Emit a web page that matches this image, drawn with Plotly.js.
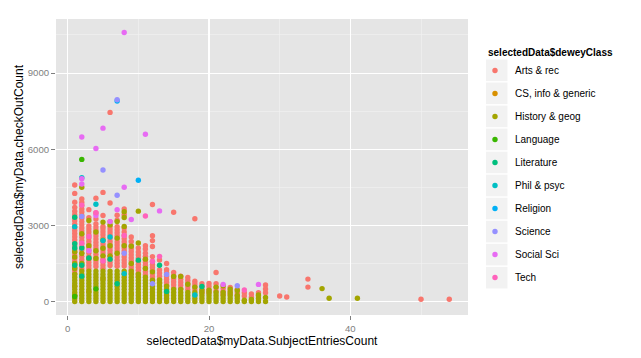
<!DOCTYPE html>
<html>
<head>
<meta charset="utf-8">
<script src="https://cdn.plot.ly/plotly-3.0.1.min.js"></script>
<style>html,body{margin:0;padding:0;background:#fff;}#chart{width:641px;height:358px;}</style>
</head>
<body>
<div id="chart"></div>
<script>
// ---- data: each class is a list of [SubjectEntriesCount, [checkOutCount values]] ----
var classNames = ['Arts & rec','CS, info & generic','History & geog','Language','Literature','Phil & psyc','Religion','Science','Social Sci','Tech'];

var artsRec = [
  [1,[4590,4260,3910,3710,3560,3420,3300,3180,3050,2920,2800,2680,2550,2430,2310,2190,2060,1940,1820,1700,1580,1460,1340,1220,1100]],
  [2,[4040,3900,3780,3650,3530,3400,3280,3150,3030,2900,2780,2650,2530,2400,2280,2150,2030,1900,1780,1650,1530,1400,1280]],
  [3,[3620,3300,2980,2860,2740,2620,2500,2380,2260,2140,2020,1900,1780,1660,1540,1420,1300]],
  [4,[4070,3490,3250,3060,2940,2820,2700,2580,2460,2340,2220,2100,1980,1860,1740,1620,1500,1380]],
  [5,[4300,3390,2960,2870,2750,2630,2510,2390,2270,2150,2030,1910,1790,1670,1550,1430,1310]],
  [6,[7450,3880,3150,2980,2860,2740,2620,2500,2380,2260,2140,2020,1900,1780,1660,1540,1420]],
  [7,[3400,3200,2950,2830,2710,2590,2470,2350,2230,2110,1990,1870,1750,1630,1510,1390]],
  [8,[3650,3420,2900,2740,2600,2480,2360,2240,2120,2000,1880,1760,1640,1520,1400]],
  [9,[2540,2370,2210,2090,1970,1850,1730,1610,1490,1370,1250,1130]],
  [10,[2110,1950,1830,1710,1590,1470,1350,1230,1110,990]],
  [11,[2200,2070,1900,1780,1660,1540,1420,1300,1180,1060]],
  [12,[3820,2590,2400,2170,1770,1580,1460,1340,1220,1100,980,860]],
  [13,[1640,1240,1120,1000,880,760]],
  [14,[1500,1250,1130,1000,880,760,640]],
  [15,[3520,1150,1020,900,780,660,540]],
  [16,[1000,880,760,640,520]],
  [17,[950,830,710,590,470]],
  [18,[3260,800,690,580,460]],
  [19,[700,590,470,350]],
  [20,[715,590,470,350]],
  [21,[1145,700,560,420]],
  [22,[520,400,280]],
  [23,[560,430,300]],
  [24,[480,350,230]],
  [25,[350,220]],
  [26,[300,170]],
  [27,[350,220]],
  [28,[650,495,350]],
  [30,[220]],[31,[180]],[34,[885,570]],[50,[90]],[54,[90]]
];
var csInfo = [[1,[600,250]],[3,[400]],[5,[900]],[9,[300]]];
var historyGeog = [
  [1,[0,120,240,360,480,600,720,840,960,1080,1300,1500,1750,1960]],
  [2,[0,120,240,360,480,600,720,840,960,1080,1200,1500,1890,2670,4500]],
  [3,[0,120,240,360,480,600,720,840,960,1080,1200,1700,2200,3190]],
  [4,[0,120,240,360,480,600,720,840,960,1080,1200,1700,2000,2740]],
  [5,[0,120,240,360,480,600,720,840,960,1080,1200,1800,2100,2420,3130]],
  [6,[0,120,240,360,480,600,720,840,960,1080,1200,1800,2200,3020]],
  [7,[0,120,240,360,480,600,720,840,960,1080,1200,1900,2500,3150]],
  [8,[0,120,240,360,480,600,720,840,960,1080,1200,2200,2960,3310,3540]],
  [9,[0,120,240,360,480,600,720,840,960,1080,1200,1500,2180]],
  [10,[0,120,240,360,480,600,720,840,960,1080,2310,3560]],
  [11,[0,120,240,360,480,600,720,840,960,1300,1670]],
  [12,[0,120,240,360,480,600,720,840,1170]],
  [13,[0,120,240,360,480,600,720,850]],
  [14,[0,120,240,360,480,600]],
  [15,[0,120,240,360,480,990]],
  [16,[0,120,240,360,480,990]],
  [17,[0,120,240,360,680]],
  [18,[0,120,240,360,570]],
  [19,[0,120,240,360,450]],
  [20,[0,120,240,360,450]],
  [21,[0,120,240,360,570]],
  [22,[0,120,240,360,620]],
  [23,[0,120,240,360,490]],
  [24,[0,120,240,440]],
  [25,[0,50]],
  [26,[0,80]],
  [27,[0,120,260]],
  [28,[0,160]],
  [36,[510]],[37,[130]],[41,[130]]
];
var language = [[2,[5600]],[1,[200]],[4,[500]]];
var literature = [[1,[3320,2280,2110,1430]],[2,[2110,1430,1000]],[3,[1720]],[6,[1670]],[7,[700]],[10,[1630]],[13,[1430]],[14,[400]],[19,[590]]];
var philPsyc = [[1,[2950]],[2,[4880]],[4,[3830]],[5,[2400]],[6,[2540]],[8,[1100]],[18,[260]]];
var religion = [[7,[7900]],[10,[4780]]];
var science = [[2,[3350]],[5,[5180]],[7,[7950,4190]],[8,[1900]],[12,[700]],[14,[1070]],[24,[625]]];
var socialSci = [[2,[6480,4840,4630]],[3,[2000]],[4,[6030,3390]],[5,[6830]],[6,[3150]],[7,[3620]],[8,[10600,4500]],[9,[3230]],[11,[6590]],[13,[3570]],[22,[675]],[27,[675]]];
var tech = [[2,[3800,2300]],[3,[2560]],[4,[3500]],[5,[1600]],[8,[2600]],[11,[3370]],[12,[1580]],[13,[1780]],[25,[455]]];

var xTicks = [0, 20, 40];
var yTicks = [0, 3000, 6000, 9000];

// ---- styling ----
var classData = [artsRec, csInfo, historyGeog, language, literature, philPsyc, religion, science, socialSci, tech];
var classColors = ['#F8766D','#D89000','#A3A500','#39B600','#00BF7D','#00BFC4','#00B0F6','#9590FF','#E76BF3','#FF62BC'];

var traces = classData.map(function (groups, i) {
  var xs = [], ys = [];
  groups.forEach(function (g) {
    g[1].forEach(function (v) { xs.push(g[0]); ys.push(v); });
  });
  return {
    type: 'scatter', mode: 'markers', x: xs, y: ys,
    name: classNames[i], legendgroup: 'g' + i,
    marker: {color: classColors[i], size: 5.4, line: {width: 0}},
    hoverinfo: 'x+y+name'
  };
});

// gray legend key boxes (ggplot style)
var L = 56, T = 19, W = 412, H = 296;
function px2x(p) { return (p - L) / W; }
function px2y(p) { return (T + H - p) / H; }
var shapes = [];
for (var i = 0; i < classNames.length; i++) {
  var cy = 70.3 + 23.04 * i;
  shapes.push({type: 'rect', xref: 'paper', yref: 'paper',
    x0: px2x(486), x1: px2x(507.5), y0: px2y(cy - 10.8), y1: px2y(cy + 10.8),
    fillcolor: '#F2F2F2', line: {width: 0}, layer: 'below'});
}

var gridMajor = '#FFFFFF', gridMinor = '#F2F2F2', tickCol = '#7F7F7F';
var layout = {
  width: 641, height: 358,
  margin: {l: L, r: 641 - L - W, t: T, b: 358 - T - H, pad: 0},
  paper_bgcolor: '#FFFFFF', plot_bgcolor: '#E5E5E5',
  font: {family: '"Liberation Sans", Arial, sans-serif', size: 10, color: '#000'},
  showlegend: true,
  xaxis: {
    range: [-1.65, 56.65], tickvals: xTicks, ticktext: xTicks.map(String),
    ticks: 'outside', ticklen: 4, tickwidth: 1, tickcolor: tickCol,
    tickfont: {size: 9.6, color: tickCol},
    showgrid: true, gridcolor: gridMajor, gridwidth: 1.1,
    minor: {tickvals: [10, 30, 50], showgrid: true, gridcolor: gridMinor, gridwidth: 0.6, ticks: ''},
    zeroline: false, showline: false, automargin: false,
    title: {text: 'selectedData$myData.SubjectEntriesCount', font: {size: 12, color: '#000'}, standoff: 4}
  },
  yaxis: {
    range: [-530, 11130], tickvals: yTicks, ticktext: yTicks.map(String),
    ticks: 'outside', ticklen: 4, tickwidth: 1, tickcolor: tickCol,
    tickfont: {size: 9.6, color: tickCol},
    showgrid: true, gridcolor: gridMajor, gridwidth: 1.1,
    minor: {tickvals: [1500, 4500, 7500, 10500], showgrid: true, gridcolor: gridMinor, gridwidth: 0.6, ticks: ''},
    zeroline: false, showline: false, automargin: false,
    title: {text: 'selectedData$myData.checkOutCount', font: {size: 12, color: '#000'}, standoff: 1}
  },
  legend: {
    x: px2x(486), xanchor: 'left', y: px2y(43), yanchor: 'top',
    bgcolor: 'rgba(0,0,0,0)', borderwidth: 0,
    font: {size: 10, color: '#000'},
    title: {text: '<b>selectedData$deweyClass</b>', font: {size: 10, color: '#000'}},
    indentation: -11,
    traceorder: 'grouped', tracegroupgap: 4, itemsizing: 'trace'
  },
  shapes: shapes
};

Plotly.newPlot('chart', traces, layout, {displayModeBar: false, staticPlot: true});
</script>
</body>
</html>
